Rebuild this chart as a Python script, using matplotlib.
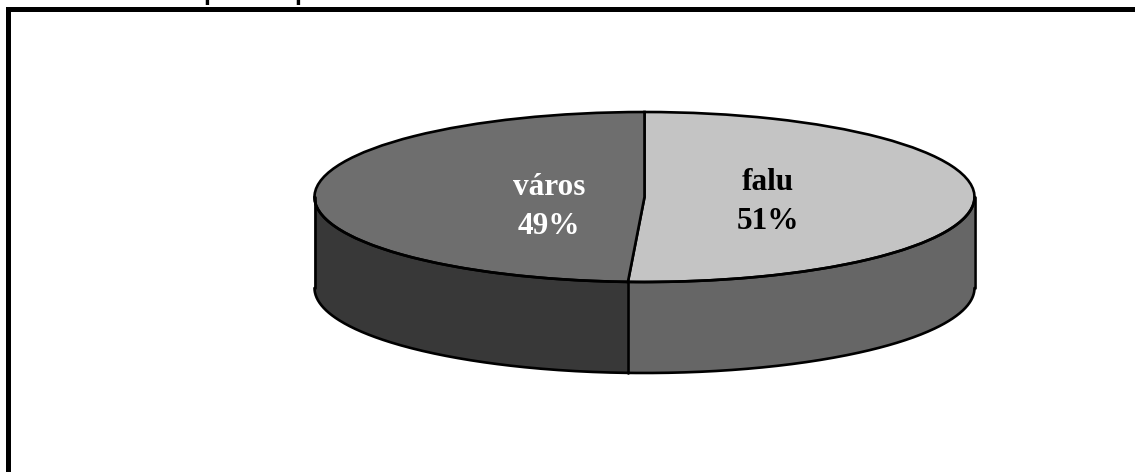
import numpy as np
import matplotlib
matplotlib.use("Agg")
import matplotlib.pyplot as plt

categories = ["falu", "város"]
shares = [50.8, 49.2]
shown_percent = [51, 49]
top_colors = ["#C4C4C4", "#6E6E6E"]
side_colors = ["#666666", "#383838"]
label_colors = ["#000000", "#FFFFFF"]
title_fragments = ["p", "p"]

W, H = 1135, 472
fig = plt.figure(figsize=(W / 100, H / 100), dpi=100, facecolor="white")

# geometry of the drawn cylinder, in pixels
cx, cy, rx, ry, depth_px = 644.5, 197.0, 330.0, 85.0, 91.0
depth = depth_px / ry
line_w = 1.9

ax = fig.add_axes([0, 0, 1, 1])
ax.pie(shares, colors=top_colors, startangle=90, counterclock=False,
       wedgeprops={"edgecolor": "black", "linewidth": line_w})
ax.set_aspect("auto")
ax.set_xlim((0 - cx) / rx, (W - cx) / rx)
ax.set_ylim((cy - H) / ry, (cy - 0) / ry)
ax.axis("off")

# side wall, from the same shares
boundary = np.radians(shares[0] / sum(shares) * 360)   # clockwise from top
arcs = [np.linspace(np.pi / 2, boundary, 200), np.linspace(boundary, 3 * np.pi / 2, 200)]
for arc, colour in zip(arcs, side_colors):
    xs, ys = np.sin(arc), np.cos(arc)
    ax.fill_between(xs, ys, ys - depth, facecolor=colour, edgecolor="none", zorder=0.5)
    ax.plot(xs, ys - depth, color="black", lw=line_w, zorder=3, solid_capstyle="round")
    ax.plot(xs, ys, color="black", lw=line_w, zorder=3, solid_capstyle="round")
for x0 in (-1.0, 1.0, np.sin(boundary)):
    y0 = -np.sqrt(max(1 - x0 ** 2, 0))
    ax.plot([x0, x0], [y0, y0 - depth], color="black", lw=line_w, zorder=3, solid_capstyle="round")

# slice labels
label_px = [(768, 202), (549, 207)]
for (px, py), name, pct, colour in zip(label_px, categories, shown_percent, label_colors):
    ax.text((px - cx) / rx, (cy - py) / ry, f"{name}\n{pct}%", color=colour,
            ha="center", va="center", family="Liberation Serif", weight="bold",
            fontsize=22.5, linespacing=1.42, zorder=5)

# frame: left and top only reach the picture, the rest is cut off
frame = fig.add_axes([7.5 / W, -0.1, 1.1, 1.1 - 8.5 / H])
frame.patch.set_alpha(0)
frame.set_xticks([])
frame.set_yticks([])
for side, spine in frame.spines.items():
    spine.set_linewidth(3.6)
    spine.set_color("black")
    spine.set_visible(side in ("left", "top"))

# cut-off title: only descenders are legible
for px, frag in zip((203.5, 294), title_fragments):
    fig.text(px / W, 1 - 0.3 / H, frag, family="Liberation Sans", weight="bold",
             fontsize=18, ha="left", va="baseline", color="black")

fig.savefig("out.png", dpi=100, facecolor="white")
